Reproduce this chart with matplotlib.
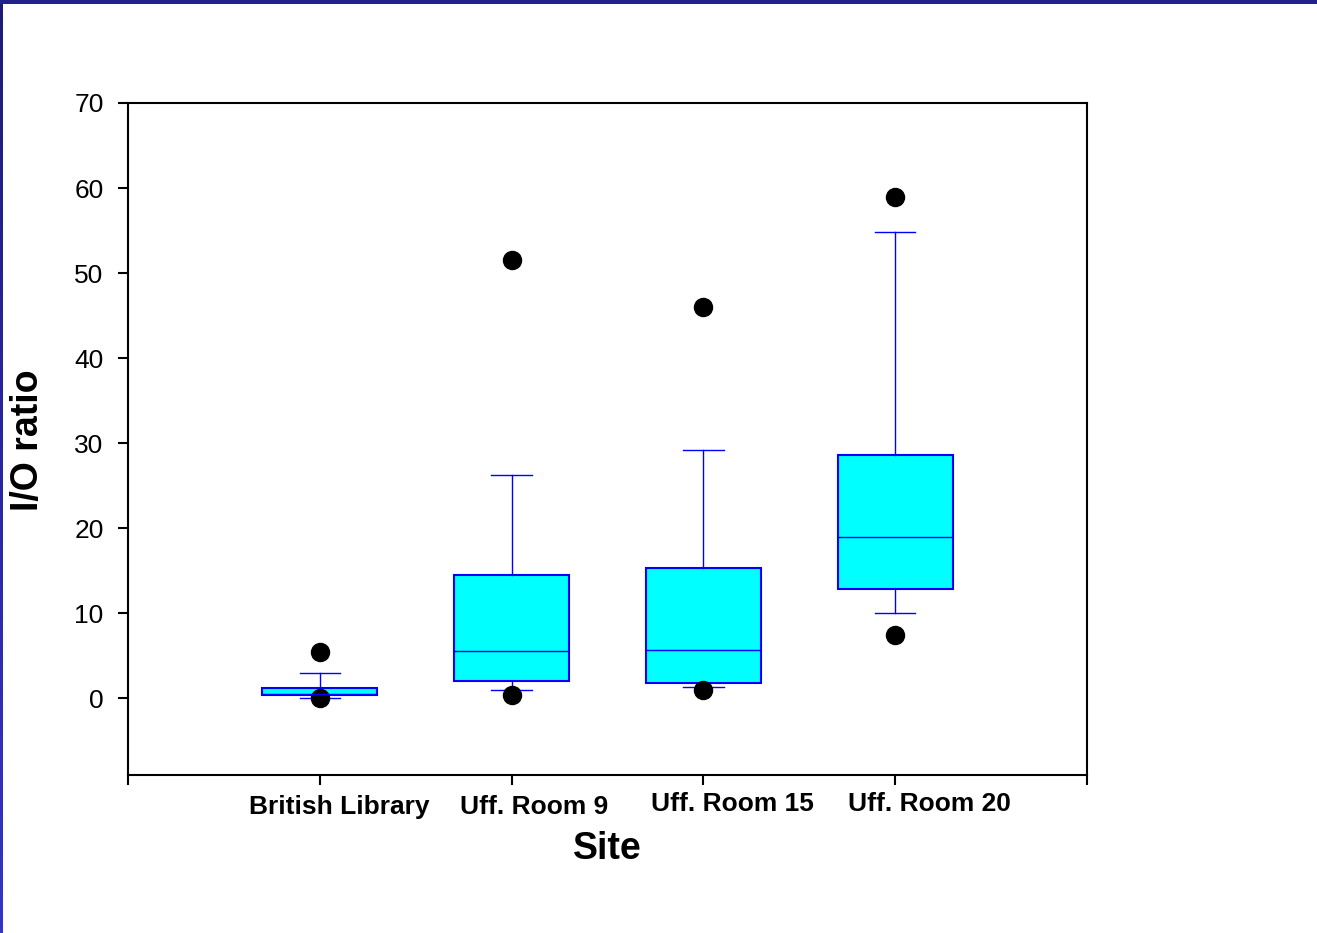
import numpy as np
import matplotlib
matplotlib.use("Agg")
import matplotlib.pyplot as plt
from matplotlib.patches import Rectangle
from matplotlib.transforms import blended_transform_factory

plt.rcParams['font.family'] = ['Liberation Sans', 'DejaVu Sans']

sites = ['British Library', 'Uff. Room 9', 'Uff. Room 15', 'Uff. Room 20']
q1 = [0.35, 2.0, 1.8, 12.85]
med = [0.55, 5.6, 5.75, 19.0]
q3 = [1.25, 14.55, 15.3, 28.6]
whislo = [0.1, 1.05, 1.35, 10.0]
whishi = [3.0, 26.3, 29.2, 54.8]
fliers = [[5.5, 0.0], [51.6, 0.4], [46.0, 0.95], [59.0, 7.5]]

yticks = [0, 10, 20, 30, 40, 50, 60, 70]

fig = plt.figure(figsize=(13.17, 9.33), dpi=100)
W, H = 1317, 933

# dark blue frame on top and left
fig.patches.append(Rectangle((0, 1 - 4 / H), 1, 4 / H, transform=fig.transFigure,
                             facecolor='#22228c', edgecolor='none', zorder=0))
grad = fig.add_axes([0, 0, 3 / W, 1 - 4 / H])
grad.imshow(np.linspace(0, 1, 256).reshape(-1, 1), aspect='auto',
            cmap=matplotlib.colors.LinearSegmentedColormap.from_list('b', ['#1c1c78', '#3434c8']))
grad.set_axis_off()

ax = fig.add_axes([128 / W, 1 - 775 / H, (1087 - 128) / W, (775 - 103) / H])

stats = []
for i in range(len(sites)):
    stats.append(dict(med=med[i], q1=q1[i], q3=q3[i], whislo=whislo[i],
                      whishi=whishi[i], fliers=fliers[i], label=sites[i]))

ax.bxp(stats, positions=[1, 2, 3, 4], widths=0.6, patch_artist=True,
       boxprops=dict(facecolor='#00ffff', edgecolor='#0000ff', linewidth=1.5),
       medianprops=dict(color='#0000ff', linewidth=1.0),
       whiskerprops=dict(color='#0000ff', linewidth=1.0),
       capprops=dict(color='#0000ff', linewidth=1.0),
       capwidths=0.21,
       flierprops=dict(marker='o', markerfacecolor='black', markeredgecolor='black',
                       markersize=13))

ax.set_xlim(0, 5)
ax.set_ylim(-9, 70)
ax.set_yticks(yticks)
ax.set_yticklabels([str(v) for v in yticks], fontsize=19)
ax.set_xticks([0, 1, 2, 3, 4, 5])
ax.set_xticklabels([])
ax.tick_params(axis='both', direction='out', length=7.5, width=1.5, color='black')
ax.tick_params(axis='y', pad=10)
for s in ax.spines.values():
    s.set_linewidth(1.5)

# category labels, slightly offset as in the original
offsets = [0.10, 0.12, 0.15, 0.18]
label_y = [807, 807, 804, 804]
tr = blended_transform_factory(ax.transData, fig.transFigure)
for i, name in enumerate(sites):
    ax.text(i + 1 + offsets[i], 1 - label_y[i] / H, name, transform=tr,
            ha='center', va='center', fontsize=19, fontweight='bold')

fig.text(607 / W, 1 - 849 / H, 'Site', ha='center', va='center', fontsize=27, fontweight='bold')
fig.text(28 / W, 1 - 440 / H, 'I/O ratio', ha='center', va='center', rotation=90,
         fontsize=27, fontweight='bold')

fig.savefig('out.png', dpi=100)
